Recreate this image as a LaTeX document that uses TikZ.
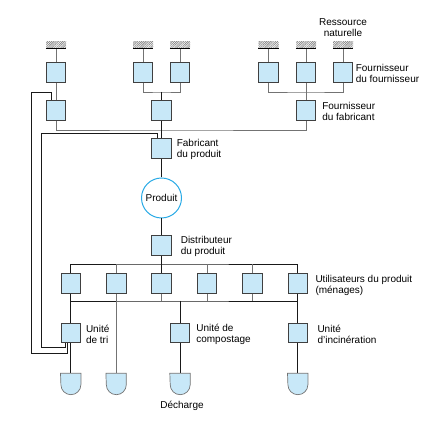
\documentclass[tikz,border=0pt]{standalone}
\usepackage{fontspec}
\setmainfont{Liberation Sans}
\usetikzlibrary{patterns.meta}
\definecolor{bleuclair}{RGB}{200,232,248}
\definecolor{bleuvif}{RGB}{40,170,230}

\begin{document}
\begin{tikzpicture}[
  x=1pt, y=1pt,
  boite/.style={rectangle, draw=black!75, fill=bleuclair, line width=0.7pt, minimum size=19.5pt, inner sep=0pt},
  ressource/.style={rectangle, inner sep=0pt, minimum width=20pt, minimum height=6pt,
    pattern={Lines[angle=45,distance=1.3pt,line width=0.5pt]}, pattern color=black!55},
  decharge/.style={rectangle, inner sep=0pt, minimum width=20pt, minimum height=21pt},
  lien/.style={draw=black!55, line width=0.7pt},
  flux/.style={draw=black!90, line width=0.7pt},
  etiq/.style={inner sep=0pt, align=left, anchor=west},
  font=\fontsize{10}{10.9}\selectfont
]
\useasboundingbox (0,0) rectangle (446,422);

% fournisseurs des fournisseurs
\node[boite] (ff1) at (56,349.5) {};
\node[boite] (ff2) at (143,349.5) {};
\node[boite, right of=ff2, node distance=37pt] (ff3) {};
\node[boite] (ff4) at (268.5,349.5) {};
\node[boite, right of=ff4, node distance=37.5pt] (ff5) {};
\node[boite, right of=ff5, node distance=37pt] (ff6) {};
\foreach \i in {1,...,6}
  \node[ressource, above of=ff\i, node distance=27.5pt] (r\i) {};

% fournisseurs du fabricant
\node[boite] (fa1) at (56,311.5) {};
\node[boite] (fa2) at (161.5,311.5) {};
\node[boite] (fa3) at (306,311.5) {};

% chaine du produit
\node[boite, below of=fa2, node distance=38pt] (fab) {};
\node[circle, draw=bleuvif, line width=1pt, fill=white, minimum size=40pt, inner sep=0pt,
  below of=fab, node distance=49.5pt] (prod) {Produit};
\node[boite, below of=prod, node distance=47.5pt] (dist) {};

% utilisateurs
\node[boite, below of=dist, node distance=38pt] (u3) {};
\node[boite, left of=u3, node distance=45.4pt] (u2) {};
\node[boite, left of=u2, node distance=45.4pt] (u1) {};
\node[boite, right of=u3, node distance=45.4pt] (u4) {};
\node[boite, right of=u4, node distance=45.4pt] (u5) {};
\node[boite, right of=u5, node distance=45.4pt] (u6) {};

% traitement
\node[boite, below of=u1, node distance=49.5pt] (tri) {};
\node[boite] (comp) at (180,89) {};
\node[boite, below of=u6, node distance=49.5pt] (inc) {};

% decharges
\node[decharge, below of=tri, node distance=51pt] (d1) {};
\node[decharge, below of=u2, node distance=100.5pt] (d2) {};
\node[decharge, below of=comp, node distance=51pt] (d3) {};
\node[decharge, below of=inc, node distance=51pt] (d4) {};

% etiquettes
\node[align=center, inner sep=0pt, above of=r6, node distance=17pt] (lres) {Ressource\\naturelle};
\node[etiq] (lff) at ([xshift=2.5pt,yshift=-0.5pt]ff6.east) {Fournisseur\\du fournisseur};
\node[etiq] (lfa) at ([xshift=6pt,yshift=-1pt]fa3.east) {Fournisseur\\du fabricant};
\node[etiq] (lfab) at ([xshift=5pt,yshift=-1pt]fab.east) {Fabricant\\du produit};
\node[etiq] (ldist) at ([xshift=9pt,yshift=-0.5pt]dist.east) {Distributeur\\du produit};
\node[etiq] (lu) at ([xshift=7.5pt,yshift=-1.5pt]u6.east) {Utilisateurs du produit\\(ménages)};
\node[etiq] (ltri) at ([xshift=5pt,yshift=-1pt]tri.east) {Unité\\de tri};
\node[etiq] (lcomp) at ([xshift=6pt,yshift=-1pt]comp.east) {Unité de\\compostage};
\node[etiq] (linc) at ([xshift=9.5pt,yshift=-1.5pt]inc.east) {Unité\\d'incinération};
\node[below of=d3, node distance=22pt, xshift=2pt] (ldech) {Décharge};

% points de jonction
\coordinate (jm) at (161.5,330);
\coordinate (jd) at (306,330);
\coordinate (jf) at (161.5,292);
\coordinate (bh) at (161.5,158);
\coordinate (bb) at (161.5,121);
\coordinate (bo1) at (31,69);
\coordinate (bo2) at (31,330);
\coordinate (bi1) at (41,75);
\coordinate (bi2) at (41,288.5);

% ressources -> fournisseurs
\foreach \i in {1,...,6} {
  \draw[lien] (r\i.south) -- (ff\i);
  \draw[line width=1.3pt] (r\i.south west) -- (r\i.south east);
}
\draw[lien] (ff1) -- (fa1);
\draw[lien] (ff2.south) |- (jm) -| (ff3.south);
\draw[flux] (jm) -- (fa2);
\draw[lien] (ff4.south) |- (jd) -| (ff6.south);
\draw[lien] (ff5) -- (fa3);
\draw[lien] (fa1.south) |- (jf) -| (fa3.south);
\draw[flux] (fa2) -- (fab);

% produit
\draw[flux] (fab) -- (prod);
\draw[flux] (prod) -- (dist);
\draw[flux] (dist) -- (u3);
\draw[flux] (u1.north) |- (bh) -| (u6.north);
\foreach \i in {2,4,5}
  \draw[lien] (u\i.north) -- (u\i.north |- bh);
\draw[flux] (u1.south) |- (bb) -| (u6.south);
\foreach \i in {3,4,5}
  \draw[lien] (u\i.south) -- (u\i.south |- bb);

% fin de vie
\draw[flux] (u1) -- (tri);
\draw[lien] (u2) -- (d2);
\draw[flux] (comp.north |- bb) -- (comp);
\draw[flux] (u6) -- (inc);
\draw[flux] (tri) -- (d1);
\draw[flux] (comp) -- (d3);
\draw[flux] (inc) -- (d4);

% recyclage
\draw[flux] ([xshift=-3.5pt]tri.south) |- (bo1) -- (bo2) -| ([xshift=-4.5pt]fa1.north);
\draw[flux] ([xshift=-5.5pt]tri.south) |- (bi1) -- (bi2) -| ([xshift=-4.5pt]fab.north);

\foreach \d in {d1,d2,d3,d4}
  \draw[draw=black!55, fill=bleuclair, line width=0.7pt] (\d.north west) -- (\d.north east)
    -- ([yshift=10pt]\d.south east) arc[start angle=0, end angle=-180, radius=10pt] -- cycle;
\end{tikzpicture}
\end{document}
